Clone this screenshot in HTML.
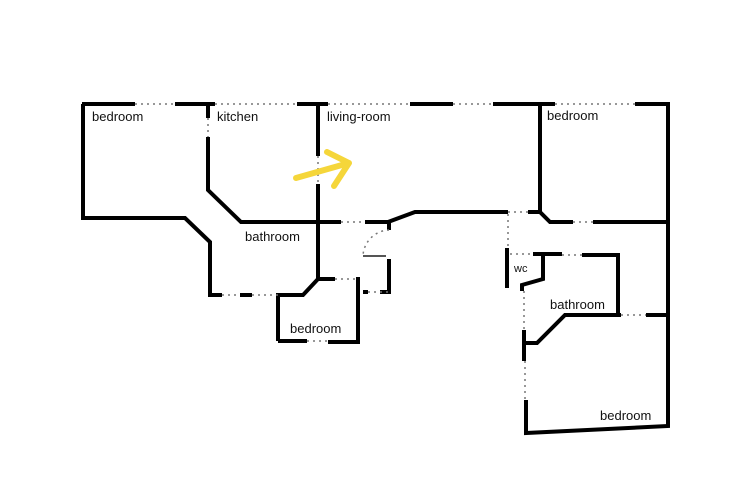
<!DOCTYPE html>
<html><head><style>body{margin:0;background:#fff}svg{display:block}text{font-family:"Liberation Sans",sans-serif;font-size:13px;fill:#111}</style></head><body>
<svg width="750" height="500" viewBox="0 0 750 500">
<g fill="none" stroke="#000" stroke-width="4" stroke-linecap="butt" stroke-linejoin="miter">
<path d="M82 104H135M175 104H215M297 104H328M410 104H453M493 104H555M635 104H668"/>
<path d="M83 104V218H185L210 242V295H222M240 295H252"/>
<path d="M278 341V295H303L318 279H335M358 277V342H328M307 341H278"/>
<path d="M318 104V156M318 184V279"/>
<path d="M208 104V118M208 137V190L241 222H341M365 222H388L415 212H508M389 222V230"/>
<path d="M389 259V292H380M363 292H368"/>
<path d="M528 212H540M540 104V212L550 222H573M593 222H668M668 102V426L526 433V400"/>
<path d="M507 248V288M533 254H562M582 255H618V315M543 256V279L522 285V291"/>
<path d="M524 330V361M524 343H537L565 315H621M646 315H668"/>
</g>
<g fill="none" stroke="#777" stroke-width="1.5" stroke-dasharray="2 4">
<path d="M135 104H175M215 104H297M328 104H410M453 104H493M555 104H635"/>
<path d="M222 295H240M252 295H278M341 222H365M335 279H356M307 341H328"/>
<path d="M208 118V137M318 156V184M368 292H389M508 212H528M508 214V248M510 254H533M562 255H582M573 222H593M621 315H646M524 291V330M525 361V400"/>
<path d="M389 230A27 27 0 0 0 363 256"/>
</g>
<path d="M363 256H386" stroke="#555" stroke-width="2"/>
<g fill="none" stroke="#f5d63a" stroke-width="6" stroke-linecap="round" stroke-linejoin="round">
<path d="M296 178L349 163M327 152L349 163L334 186"/>
</g>
<text x="92" y="121">bedroom</text>
<text x="217" y="121">kitchen</text>
<text x="327" y="121">living-room</text>
<text x="547" y="120">bedroom</text>
<text x="245" y="241">bathroom</text>
<text x="290" y="333">bedroom</text>
<text x="514" y="272" style="font-size:11px">wc</text>
<text x="550" y="309">bathroom</text>
<text x="600" y="420">bedroom</text>
</svg>
</body></html>
